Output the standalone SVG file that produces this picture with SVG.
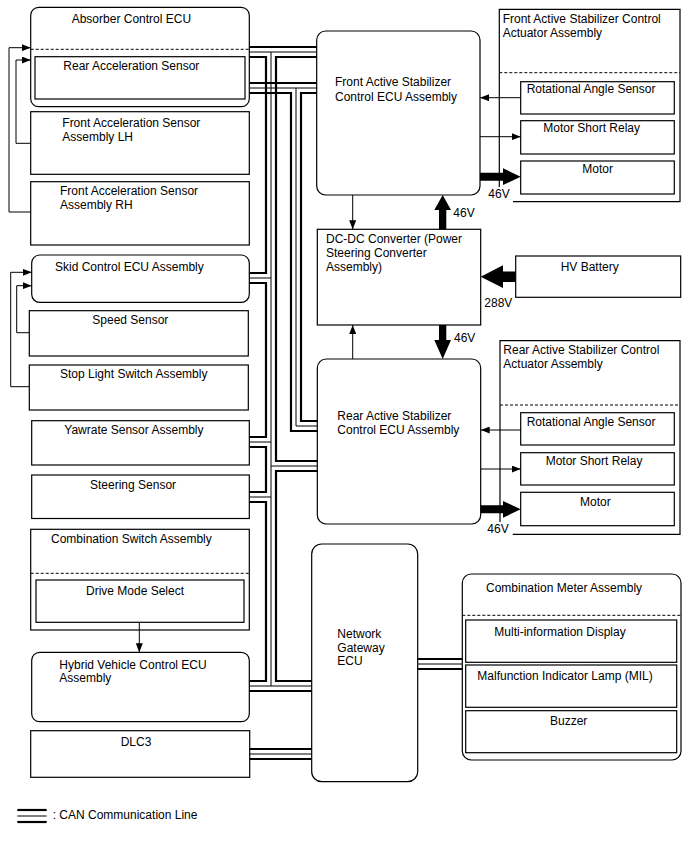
<svg xmlns="http://www.w3.org/2000/svg" width="688" height="852" viewBox="0 0 688 852">
<defs>
<marker id="ah" markerWidth="9" markerHeight="7" refX="9" refY="3.5" orient="auto" markerUnits="userSpaceOnUse"><path d="M0,0 L9,3.5 L0,7 z" fill="#000"/></marker>
</defs>
<style>
.b{fill:#fff;stroke:#000;stroke-width:1.2}
.o{fill:none;stroke:#000;stroke-width:1.2}
.d{fill:none;stroke:#000;stroke-width:1;stroke-dasharray:3 2}
text{font-family:"Liberation Sans",Arial,sans-serif;font-size:12px;fill:#000}
.k{fill:none;stroke:#000;stroke-width:2.2}
.n{fill:none;stroke:#000;stroke-width:1}
.a{fill:none;stroke:#000;stroke-width:1;marker-end:url(#ah)}
.f{fill:#000}
</style>
<rect width="688" height="852" fill="#fff"/>
<g id="absorber-ecu"><rect class="b" x="30.7" y="7.3" width="218.6" height="99.4" rx="8"/><text x="71.7" y="23">Absorber Control ECU</text><line class="d" x1="30.7" y1="49.3" x2="249.3" y2="49.3"/></g>
<g id="rear-accel"><rect class="b" x="35" y="56.7" width="210" height="42.3"/><text x="63.3" y="70">Rear Acceleration Sensor</text></g>
<g id="front-accel-lh"><rect class="b" x="30.7" y="111.7" width="218.6" height="62.6"/><text x="62.3" y="127">Front Acceleration Sensor</text><text x="62.3" y="141">Assembly LH</text></g>
<g id="front-accel-rh"><rect class="b" x="30.7" y="181.7" width="218.6" height="63.3"/><text x="60" y="195">Front Acceleration Sensor</text><text x="60" y="209">Assembly RH</text></g>
<g id="skid-ecu"><rect class="b" x="31.7" y="255" width="217.6" height="47.3" rx="8"/><text x="55" y="271">Skid Control ECU Assembly</text></g>
<g id="speed-sensor"><rect class="b" x="29.3" y="310.7" width="219" height="45.3"/><text x="92.3" y="323.5">Speed Sensor</text></g>
<g id="stop-light"><rect class="b" x="29.3" y="365" width="219" height="45"/><text x="60" y="377.5">Stop Light Switch Assembly</text></g>
<g id="yawrate"><rect class="b" x="31.7" y="420.7" width="217.6" height="44.3"/><text x="64.3" y="433.5">Yawrate Sensor Assembly</text></g>
<g id="steering"><rect class="b" x="31.7" y="475" width="217.6" height="43.5"/><text x="90" y="488.5">Steering Sensor</text></g>
<g id="comb-switch"><rect class="b" x="30.7" y="529.3" width="218.6" height="100.7"/><text x="51" y="543">Combination Switch Assembly</text><line class="d" x1="30.7" y1="573.3" x2="249.3" y2="573.3"/></g>
<g id="drive-mode"><rect class="b" x="36" y="580" width="208" height="42.3"/><text x="86" y="595">Drive Mode Select</text></g>
<g id="hv-ecu"><rect class="b" x="31.7" y="652.3" width="217.6" height="69.4" rx="8"/><text x="59.3" y="668.5">Hybrid Vehicle Control ECU</text><text x="59.3" y="682">Assembly</text></g>
<g id="dlc3"><rect class="b" x="30.7" y="730.7" width="219" height="46.6"/><text x="120.7" y="746">DLC3</text></g>
<g id="legend"><line class="k" x1="17.3" y1="810" x2="46.7" y2="810"/><line class="n" x1="17.3" y1="816" x2="46.7" y2="816"/><line class="k" x1="17.3" y1="822" x2="46.7" y2="822"/><text x="52.7" y="819">: CAN Communication Line</text></g>

<g id="front-ecu"><rect class="b" x="316.7" y="31" width="163.3" height="164" rx="9"/><text x="335" y="86">Front Active Stabilizer</text><text x="335" y="100.5">Control ECU Assembly</text></g>
<g id="front-actuator"><path class="o" d="M499.3,187 V9.3 H680 V201.7 H513"/><line class="d" x1="499.3" y1="72.7" x2="680" y2="72.7"/><text x="502.7" y="22.7">Front Active Stabilizer Control</text><text x="502.7" y="36.7">Actuator Assembly</text><text x="488.3" y="197.5">46V</text></g>
<g id="front-rot"><rect class="b" x="520.7" y="81.7" width="153.6" height="32.3"/><text x="526.7" y="93">Rotational Angle Sensor</text></g>
<g id="front-msr"><rect class="b" x="520.7" y="120.7" width="153.6" height="33.3"/><text x="543.3" y="132">Motor Short Relay</text></g>
<g id="front-motor"><rect class="b" x="520.7" y="161" width="153.6" height="33"/><text x="582.3" y="172.5">Motor</text></g>

<g id="dcdc"><rect class="b" x="317.3" y="229.3" width="163.4" height="95.7"/><text x="326" y="243">DC-DC Converter (Power</text><text x="326" y="257">Steering Converter</text><text x="326" y="271">Assembly)</text></g>
<g id="hv-battery"><rect class="b" x="515.7" y="256" width="165" height="41.3"/><text x="560.7" y="271">HV Battery</text></g>

<g id="rear-ecu"><rect class="b" x="317.3" y="359" width="163.4" height="165" rx="9"/><text x="337.3" y="420">Rear Active Stabilizer</text><text x="337.3" y="434">Control ECU Assembly</text></g>
<g id="rear-actuator"><path class="o" d="M500,522 V340.7 H680 V534.3 H512.7"/><line class="d" x1="500" y1="405" x2="680" y2="405"/><text x="503.3" y="354">Rear Active Stabilizer Control</text><text x="503.3" y="368">Actuator Assembly</text><text x="487.3" y="533.3">46V</text></g>
<g id="rear-rot"><rect class="b" x="520.7" y="412.7" width="153.6" height="32.3"/><text x="526.7" y="426">Rotational Angle Sensor</text></g>
<g id="rear-msr"><rect class="b" x="520.7" y="452.7" width="153.6" height="32.3"/><text x="545.7" y="465">Motor Short Relay</text></g>
<g id="rear-motor"><rect class="b" x="520.7" y="492.3" width="153.6" height="33.4"/><text x="580" y="506">Motor</text></g>

<g id="gateway"><rect class="b" x="311.7" y="544" width="106" height="237.7" rx="10"/><text x="337.3" y="637.7">Network</text><text x="337.3" y="651.7">Gateway</text><text x="337.3" y="665">ECU</text></g>
<g id="comb-meter"><rect class="b" x="462.3" y="574" width="218.7" height="186" rx="9"/><text x="486" y="592">Combination Meter Assembly</text><line class="d" x1="462.3" y1="615.3" x2="681" y2="615.3"/></g>
<g id="mid"><rect class="b" x="465.7" y="620" width="211" height="42.3"/><text x="494.3" y="636">Multi-information Display</text></g>
<g id="mil"><rect class="b" x="465.7" y="665" width="211" height="42.3"/><text x="477.3" y="680">Malfunction Indicator Lamp (MIL)</text></g>
<g id="buzzer"><rect class="b" x="465.7" y="710.7" width="211" height="42"/><text x="550" y="725">Buzzer</text></g>

<g id="connectors">
<line class="k" x1="249.3" y1="47" x2="316.7" y2="47"/>
<line class="n" x1="249.3" y1="52" x2="316.7" y2="52"/>
<path class="k" d="M249.3,57 H266 V273 H249.3"/>
<path class="k" d="M249.3,283 H266 V437 H249.3"/>
<path class="k" d="M249.3,447 H266 V492 H249.3"/>
<path class="k" d="M249.3,502 H266 V681 H249.3"/>
<path class="n" d="M271,52 V686"/>
<path class="n" d="M249.3,278 H271 M249.3,442 H271 M249.3,497 H271 M249.3,686 H311.7 M271,466 H317.3"/>
<path class="k" d="M316.7,57 H276 V461 H317.3"/>
<path class="k" d="M317.3,471 H276 V681 H311.7"/>
<line class="k" x1="249.3" y1="691" x2="311.7" y2="691"/>
<line class="k" x1="249.3" y1="83" x2="316.7" y2="83"/>
<line class="n" x1="249.3" y1="88" x2="316.7" y2="88"/>
<path class="k" d="M249.3,93 H291 V431 H317.3"/>
<path class="k" d="M316.7,93 H301 V421 H317.3"/>
<path class="n" d="M296,88 V426 H317.3"/>
<line class="k" x1="417.7" y1="659" x2="462.3" y2="659"/>
<line class="n" x1="417.7" y1="664" x2="462.3" y2="664"/>
<line class="k" x1="417.7" y1="669" x2="462.3" y2="669"/>
<line class="k" x1="249.7" y1="749" x2="311.7" y2="749"/>
<line class="n" x1="249.7" y1="754" x2="311.7" y2="754"/>
<line class="k" x1="249.7" y1="759" x2="311.7" y2="759"/>
<path class="a" d="M30.7,212 H9 V47.7 H30.7"/>
<path class="a" d="M30.7,143.3 H16 V60 H30.7"/>
<path class="a" d="M29.3,386.7 H10.7 V272.3 H31.7"/>
<path class="a" d="M29.3,332.7 H16.7 V285.7 H31.7"/>
<path class="a" d="M352.7,195 V229.3"/>
<path class="a" d="M352.7,359 V325"/>
<path class="a" d="M520.7,97.7 H480"/>
<path class="a" d="M480,136.7 H520.7"/>
<path class="a" d="M520.7,430 H480.7"/>
<path class="a" d="M480.7,469 H520.7"/>
<path class="a" d="M139.3,622.3 V652.3"/>
<polygon class="f" points="480,172.7 503,172.7 503,168.3 520.7,176.7 503,185 503,180.7 480,180.7"/>
<polygon class="f" points="480.7,505.3 503,505.3 503,501 520.7,509.3 503,517.7 503,513.3 480.7,513.3"/>
<polygon class="f" points="439,229.3 439,210 434.3,210 442.7,195 451,210 446.3,210 446.3,229.3"/>
<polygon class="f" points="439,325 439,340 434.3,340 442.7,359 451,340 446.3,340 446.3,325"/>
<polygon class="f" points="515.7,271.5 503,271.5 503,265.3 480.7,276.7 503,288 503,282 515.7,282"/>
<text x="453.3" y="216.7">46V</text>
<text x="484.3" y="307.3">288V</text>
<text x="454" y="341.7">46V</text>
</g>
</svg>
